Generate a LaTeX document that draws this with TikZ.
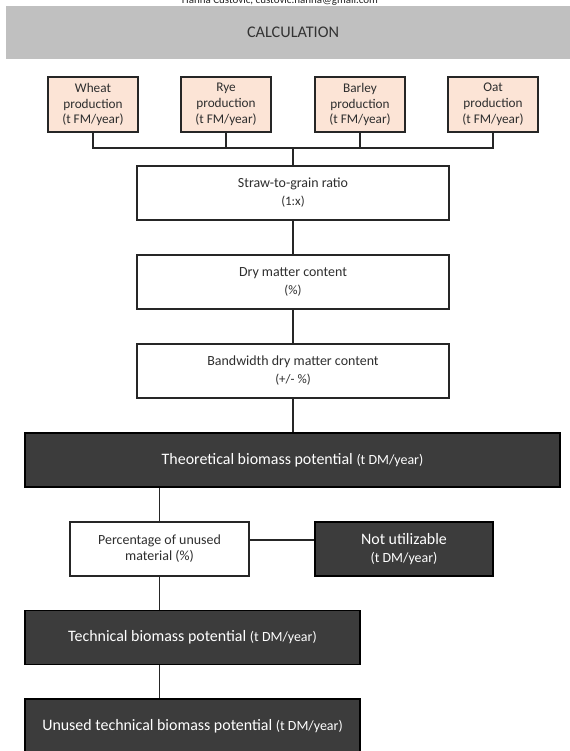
\documentclass[tikz,border=0pt]{standalone}
\usepackage{fontspec}
\setmainfont{Carlito}
\usetikzlibrary{calc}
\definecolor{headgray}{HTML}{C0C0C0}
\definecolor{peach}{HTML}{FCE4D6}
\definecolor{darkbox}{HTML}{3C3C3C}
\definecolor{ink}{HTML}{2E2E2E}
\tikzset{
  cropbox/.style={draw=black!85, line width=1.6bp, fill=peach, text=ink,
    minimum width=90bp, minimum height=55bp, inner sep=0pt, align=center,
    font=\fontsize{13.3}{16}\selectfont},
  stepbox/.style={draw=black!85, line width=1.3bp, fill=white, text=ink,
    minimum width=312bp, minimum height=54bp, inner sep=0pt, align=center,
    font=\fontsize{14}{18}\selectfont},
  darkstep/.style={draw=black, line width=1.3bp, fill=darkbox, text=white,
    minimum height=54bp, inner sep=0pt, align=center,
    font=\fontsize{16}{18}\selectfont},
  link/.style={draw=black!85, line width=1.3bp},
}
\newcommand{\unitlight}[1]{{\fontsize{13}{16}\selectfont #1}}
\newcommand{\unitdark}[1]{{\fontsize{14}{16}\selectfont #1}}
\begin{document}
\begin{tikzpicture}[x=1bp,y=-1bp]
\useasboundingbox (0,0) rectangle (570,751);
\clip (0,0) rectangle (570,751);
\fill[white] (0,0) rectangle (570,751);

% author line, cut by the top edge
\node[anchor=base, text=black!85, font=\fontsize{11}{13}\selectfont]
  (author) at (280,3.5) {Hanna Custovic, custovic.hanna@gmail.com};

% header band
\node[fill=headgray, minimum width=574bp, minimum height=53bp, inner sep=0pt,
  text=black!80, font=\fontsize{16.3}{18}\selectfont] (head) at (293,32.5) {CALCULATION};

% crop inputs
\node[cropbox] (wheat)  at (93,104.5)  {Wheat\\production\\(t FM/year)};
\node[cropbox] (rye)    at (226,104.5) {Rye\\production\\(t FM/year)};
\node[cropbox] (barley) at (360,104.5) {Barley\\production\\(t FM/year)};
\node[cropbox] (oat)    at (493,104.5) {Oat\\production\\(t FM/year)};
\coordinate (bus) at (293,148);

% calculation steps
\node[stepbox] (straw) at (293,193) {Straw-to-grain ratio\\\unitlight{(1:x)}};
\node[stepbox] (dry)   at (293,282) {Dry matter content\\\unitlight{(\%)}};
\node[stepbox] (band)  at (293,371) {Bandwidth dry matter content\\\unitlight{(+/- \%)}};

\node[darkstep, minimum width=535bp] (theo) at (292.5,460)
  {Theoretical biomass potential \unitdark{(t DM/year)}};

\node[stepbox, minimum width=179bp, font=\fontsize{14}{16}\selectfont] (perc) at (159.5,549)
  {Percentage of unused\\material (\%)};
\node[darkstep, minimum width=178bp] (nu) at (404,549)
  {Not utilizable\\\unitdark{(t DM/year)}};

\node[darkstep, minimum width=335bp] (tech) at (192.5,637.5)
  {Technical biomass potential \unitdark{(t DM/year)}};
\node[darkstep, minimum width=335bp] (unused) at (192.5,726)
  {Unused technical biomass potential \unitdark{(t DM/year)}};

% connectors
\draw[link] (wheat.south) |- (bus) -| (oat.south);
\draw[link] (rye.south) -- (rye.south |- bus);
\draw[link] (barley.south) -- (barley.south |- bus);
\draw[link] (bus) -- (straw.north);
\draw[link] (straw.south) -- (dry.north);
\draw[link] (dry.south) -- (band.north);
\draw[link] (band.south) -- (band.south |- theo.north);
\draw[link] (perc.north |- theo.south) -- (perc.north);
\draw[link] ($(perc.east)+(0,-9)$) -- ($(nu.west)+(0,-9)$);
\draw[link] (perc.south) -- (perc.south |- tech.north);
\draw[link] (perc.south |- tech.south) -- (perc.south |- unused.north);
\end{tikzpicture}
\end{document}
